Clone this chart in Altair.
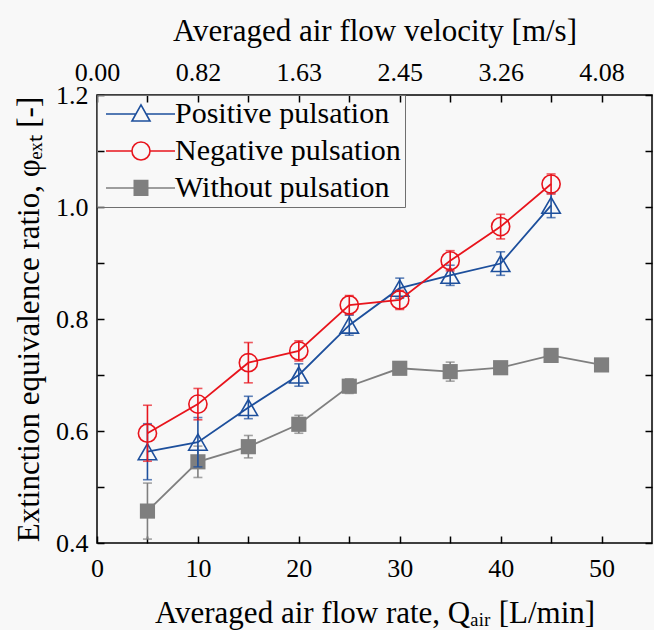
import altair as alt
import pandas as pd

series_names = ["Positive pulsation", "Negative pulsation", "Without pulsation"]
series_colors = ["#1d4f9c", "#e8141c", "#7f7f7f"]

q_pos = [5, 10, 15, 20, 25, 30, 35, 40, 45]
phi_pos = [0.563, 0.580, 0.642, 0.700, 0.789, 0.855, 0.878, 0.899, 1.003]
err_pos = [0.050, 0.044, 0.020, 0.020, 0.018, 0.018, 0.018, 0.021, 0.022]

q_neg = [5, 10, 15, 20, 25, 30, 35, 40, 45]
phi_neg = [0.596, 0.648, 0.722, 0.743, 0.825, 0.834, 0.904, 0.965, 1.041]
err_neg = [0.050, 0.028, 0.036, 0.018, 0.017, 0.017, 0.018, 0.022, 0.018]

q_wo = [5, 10, 15, 20, 25, 30, 35, 40, 45, 50]
phi_wo = [0.457, 0.545, 0.572, 0.612, 0.680, 0.712, 0.706, 0.713, 0.735, 0.718]
err_wo = [0.050, 0.028, 0.020, 0.016, 0.013, 0.010, 0.017, 0.010, 0.010, 0.010]

x_ticks = [0, 5, 10, 15, 20, 25, 30, 35, 40, 45, 50]
y_ticks = [0.4, 0.5, 0.6, 0.7, 0.8, 0.9, 1.0, 1.1, 1.2]
velocity_labels = ["0.00", "0.82", "1.63", "2.45", "3.26", "4.08"]

rows = []
for name, qs, ps, es in [
    (series_names[0], q_pos, phi_pos, err_pos),
    (series_names[1], q_neg, phi_neg, err_neg),
    (series_names[2], q_wo, phi_wo, err_wo),
]:
    for q, p, e in zip(qs, ps, es):
        rows.append({"series": name, "q": q, "phi": p, "lo": p - e, "hi": p + e})
df = pd.DataFrame(rows)

FONT = "Liberation Serif"
LFS = 26
TFS = 31
inward = {"expr": "-7"}

x_scale = alt.Scale(domain=[0, 55], nice=False, zero=False)
y_scale = alt.Scale(domain=[0.4, 1.2], nice=False, zero=False)
color_scale = alt.Scale(domain=series_names, range=series_colors)

vel_arr = "[" + ",".join("'" + v + "'" for v in velocity_labels) + "]"

axis_style = dict(
    labelFont=FONT, titleFont=FONT, labelFontSize=LFS, titleFontSize=TFS,
    labelColor="black", titleColor="black", titleFontWeight="normal",
    tickColor="black", tickWidth=1.5, grid=False, domain=False,
    tickSize=inward, labelOverlap=False, labelFlush=False,
)

x_bottom = alt.Axis(
    orient="bottom", values=x_ticks,
    labelExpr="datum.value % 10 == 0 ? datum.label : ''",
    labelPadding=19, titlePadding=17,
    title="Averaged air flow rate, Qₐᵢᵣ [L/min]", **axis_style,
)
x_top = alt.Axis(
    orient="top", values=x_ticks,
    labelExpr="datum.value % 10 == 0 ? " + vel_arr + "[datum.value / 10] : ''",
    labelPadding=17, titlePadding=12,
    title="Averaged air flow velocity [m/s]", **axis_style,
)
y_left = alt.Axis(
    orient="left", values=y_ticks,
    labelExpr="round(datum.value * 10) % 2 == 0 ? format(datum.value, '.1f') : ''",
    labelPadding=16, titlePadding=10,
    title="Extinction equivalence ratio, φₑₓₜ [-]", **axis_style,
)
y_right = alt.Axis(
    orient="right", values=y_ticks, labels=False, title=None, **axis_style,
)

base = alt.Chart(df)

# legend symbols: a line with the marker in its middle (unit = 7 px)
C = 3.57
def _hatch_square(cx, h):
    parts = ["M-1.43,0H8.43"]
    y = -h
    while y <= h + 1e-9:
        parts.append("M%.2f,%.2fH%.2f" % (cx - h, y, cx + h))
        y += 0.15
    return "".join(parts)

legend_paths = [
    "M-1.43,0H%.2fM%.2f,0H8.43M%.2f,-1.3L%.2f,1L%.2f,1Z" % (C - 0.73, C + 0.73, C, C + 1.29, C - 1.29),
    "M-1.43,0H%.2fM%.2f,0H8.43M%.2f,0A1.29,1.29,0,1,1,%.2f,0A1.29,1.29,0,1,1,%.2f,0Z" % (C - 1.29, C + 1.29, C + 1.29, C - 1.29, C + 1.29),
    _hatch_square(C, 1.07),
]
leg = alt.Legend(
    title=None, orient="top-left", offset=0, padding=4,
    strokeColor="#6f6f6f", labelFont=FONT, labelFontSize=30,
    labelColor="black", labelOffset=44, symbolSize=196,
    symbolStrokeWidth=1.6, symbolFillColor="transparent",
    rowPadding=7, labelLimit=400,
)
legend_layer = base.transform_filter("false").mark_point(
    filled=False, size=196, strokeWidth=1.6, opacity=1
).encode(
    color=alt.Color("series:N", scale=color_scale, legend=leg),
    shape=alt.Shape("series:N", scale=alt.Scale(domain=series_names, range=legend_paths), legend=leg),
)

marker_specs = {
    series_names[0]: ("triangle-up", False, 340),
    series_names[1]: ("circle", False, 330),
    series_names[2]: ("square", True, 230),
}

def series_layers(idx, with_axes):
    name = series_names[idx]
    col = series_colors[idx]
    sb = base.transform_filter(alt.datum.series == name)
    ax_xb = x_bottom if with_axes else None
    ax_yl = y_left if with_axes else None
    ax_xt = x_top if with_axes else None
    ax_yr = y_right if with_axes else None
    line = sb.mark_line(strokeWidth=1.8, color=col).encode(
        x=alt.X("q:Q", scale=x_scale, axis=ax_xb),
        y=alt.Y("phi:Q", scale=y_scale, axis=ax_yl),
    )
    stem = sb.mark_rule(strokeWidth=1.6, color=col).encode(
        x=alt.X("q:Q", scale=x_scale, axis=ax_xt),
        y=alt.Y("lo:Q", scale=y_scale, axis=ax_yr),
        y2="hi:Q",
    )
    cap_lo = sb.mark_tick(orient="horizontal", size=9, thickness=1.6, color=col).encode(
        x=alt.X("q:Q", scale=x_scale, axis=None),
        y=alt.Y("lo:Q", scale=y_scale, axis=None),
    )
    cap_hi = sb.mark_tick(orient="horizontal", size=9, thickness=1.6, color=col).encode(
        x=alt.X("q:Q", scale=x_scale, axis=None),
        y=alt.Y("hi:Q", scale=y_scale, axis=None),
    )
    shape, filled, size = marker_specs[name]
    pts = sb.mark_point(
        shape=shape, filled=filled, size=size, strokeWidth=1.6, opacity=1, color=col
    ).encode(
        x=alt.X("q:Q", scale=x_scale, axis=None),
        y=alt.Y("phi:Q", scale=y_scale, axis=None),
    )
    return [line, stem, cap_lo, cap_hi, pts]

layers = [legend_layer]
layers += series_layers(2, True)
layers += series_layers(0, False)
layers += series_layers(1, False)

chart = alt.layer(*layers).resolve_axis(
    x="independent", y="independent"
).properties(
    width=555, height=448,
    padding={"left": 97, "top": 95, "right": 2, "bottom": 87},
    autosize=alt.AutoSizeParams(type="none"),
    background="#f8f8f8",
).configure_view(
    stroke="black", strokeWidth=1.5
)

chart.save("out.html", embed_options={"renderer": "svg", "actions": False})
